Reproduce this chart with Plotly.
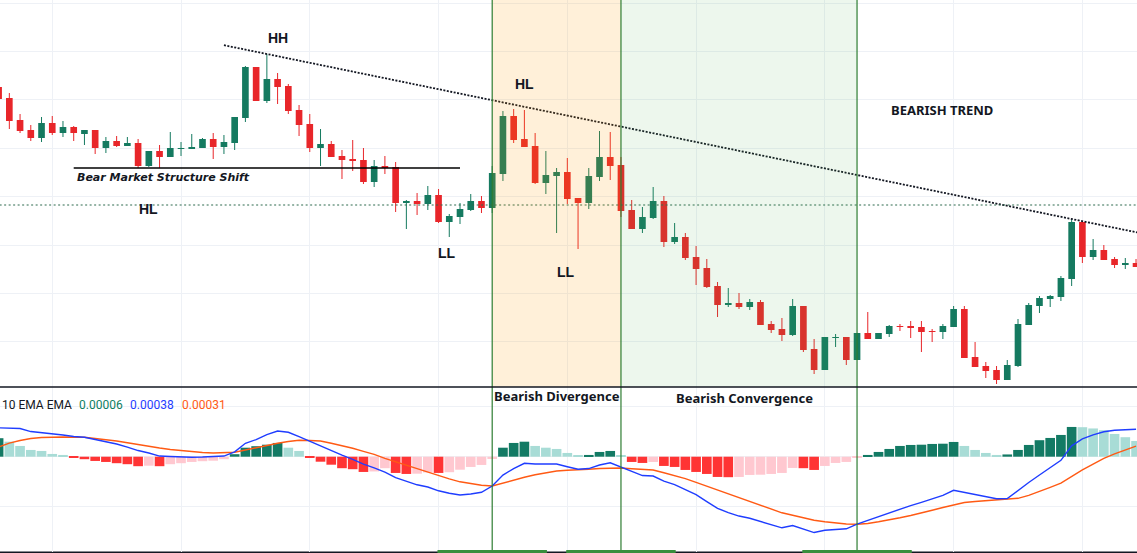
import plotly.graph_objects as go

# ---- price bars (5-digit quotes) ----
open_ = [1.08158, 1.08147, 1.08125, 1.08115, 1.08107, 1.08122, 1.08112, 1.08118, 1.08111, 1.08115,
         1.08097, 1.08104, 1.08099, 1.08102, 1.08079, 1.08094, 1.08088, 1.08096, 1.08096, 1.08097,
         1.08106, 1.08098, 1.08102, 1.08127, 1.08178, 1.08144, 1.08166, 1.08159, 1.08135, 1.08121,
         1.08097, 1.08101, 1.08089, 1.08086, 1.08085, 1.08063, 1.08079, 1.08078, 1.08042, 1.08044,
         1.08041, 1.08050, 1.08023, 1.08028, 1.08035, 1.08044, 1.08037, 1.08071, 1.08129, 1.08106,
         1.08099, 1.08062, 1.08069, 1.08073, 1.08047, 1.08042, 1.08068, 1.08088, 1.08080, 1.08035,
         1.08016, 1.08027, 1.08044, 1.08003, 1.08008, 1.07988, 1.07977, 1.07959, 1.07940, 1.07942,
         1.07938, 1.07943, 1.07921, 1.07916, 1.07910, 1.07939, 1.07896, 1.07875, 1.07907, 1.07908,
         1.07885, 1.07912, 1.07906, 1.07911, 1.07919, 1.07919, 1.07918, 1.07914, 1.07913, 1.07918,
         1.07936, 1.07888, 1.07879, 1.07875, 1.07865, 1.07879, 1.07920, 1.07939, 1.07946, 1.07948,
         1.07966, 1.08023, 1.07988, 1.07995, 1.07986, 1.07980, 1.07982]
high = [1.08160, 1.08152, 1.08131, 1.08120, 1.08128, 1.08129, 1.08124, 1.08119, 1.08115, 1.08115,
        1.08108, 1.08109, 1.08108, 1.08106, 1.08094, 1.08100, 1.08113, 1.08103, 1.08111, 1.08107,
        1.08112, 1.08110, 1.08128, 1.08179, 1.08178, 1.08191, 1.08172, 1.08161, 1.08140, 1.08131,
        1.08116, 1.08104, 1.08095, 1.08105, 1.08097, 1.08085, 1.08089, 1.08083, 1.08045, 1.08052,
        1.08059, 1.08056, 1.08031, 1.08042, 1.08051, 1.08049, 1.08079, 1.08134, 1.08136, 1.08135,
        1.08112, 1.08094, 1.08077, 1.08087, 1.08047, 1.08077, 1.08114, 1.08113, 1.08088, 1.08045,
        1.08038, 1.08058, 1.08049, 1.08022, 1.08012, 1.07999, 1.07986, 1.07963, 1.07957, 1.07952,
        1.07946, 1.07945, 1.07924, 1.07927, 1.07946, 1.07939, 1.07906, 1.07908, 1.07911, 1.07908,
        1.07912, 1.07933, 1.07912, 1.07920, 1.07921, 1.07924, 1.07924, 1.07916, 1.07921, 1.07939,
        1.07939, 1.07903, 1.07883, 1.07879, 1.07885, 1.07926, 1.07942, 1.07949, 1.07950, 1.07969,
        1.08026, 1.08023, 1.08006, 1.08000, 1.07988, 1.07987, 1.07986]
low = [1.08145, 1.08116, 1.08112, 1.08104, 1.08103, 1.08110, 1.08108, 1.08104, 1.08100, 1.08091,
       1.08092, 1.08098, 1.08099, 1.08077, 1.08078, 1.08077, 1.08088, 1.08089, 1.08096, 1.08097,
       1.08086, 1.08091, 1.08095, 1.08123, 1.08144, 1.08142, 1.08141, 1.08131, 1.08109, 1.08093,
       1.08079, 1.08088, 1.08066, 1.08074, 1.08061, 1.08058, 1.08071, 1.08033, 1.08016, 1.08030,
       1.08035, 1.08022, 1.08008, 1.08021, 1.08034, 1.08032, 1.08032, 1.08064, 1.08102, 1.08098,
       1.08061, 1.08051, 1.08012, 1.08041, 1.07996, 1.08036, 1.08064, 1.08065, 1.08028, 1.08016,
       1.08012, 1.08026, 1.07998, 1.08001, 1.07985, 1.07960, 1.07957, 1.07928, 1.07938, 1.07936,
       1.07935, 1.07920, 1.07912, 1.07904, 1.07909, 1.07893, 1.07871, 1.07875, 1.07898, 1.07880,
       1.07885, 1.07906, 1.07906, 1.07908, 1.07914, 1.07907, 1.07893, 1.07903, 1.07906, 1.07918,
       1.07887, 1.07878, 1.07867, 1.07861, 1.07865, 1.07878, 1.07920, 1.07932, 1.07938, 1.07944,
       1.07959, 1.07982, 1.07985, 1.07985, 1.07977, 1.07976, 1.07978]
close = [1.08146, 1.08124, 1.08114, 1.08107, 1.08122, 1.08112, 1.08118, 1.08112, 1.08115, 1.08097,
         1.08104, 1.08099, 1.08102, 1.08079, 1.08094, 1.08088, 1.08097, 1.08097, 1.08098, 1.08106,
         1.08098, 1.08103, 1.08128, 1.08178, 1.08144, 1.08166, 1.08158, 1.08134, 1.08120, 1.08097,
         1.08101, 1.08088, 1.08085, 1.08084, 1.08063, 1.08079, 1.08077, 1.08042, 1.08044, 1.08041,
         1.08050, 1.08023, 1.08029, 1.08036, 1.08044, 1.08037, 1.08072, 1.08129, 1.08105, 1.08098,
         1.08062, 1.08070, 1.08073, 1.08046, 1.08042, 1.08069, 1.08088, 1.08079, 1.08034, 1.08016,
         1.08028, 1.08044, 1.08003, 1.08008, 1.07987, 1.07976, 1.07958, 1.07940, 1.07942, 1.07938,
         1.07943, 1.07920, 1.07915, 1.07910, 1.07939, 1.07895, 1.07875, 1.07908, 1.07908, 1.07885,
         1.07912, 1.07906, 1.07912, 1.07919, 1.07918, 1.07917, 1.07913, 1.07913, 1.07919, 1.07936,
         1.07887, 1.07878, 1.07874, 1.07865, 1.07880, 1.07921, 1.07940, 1.07947, 1.07949, 1.07967,
         1.08023, 1.07988, 1.07995, 1.07985, 1.07980, 1.07982, 1.07978]

# ---- oscillator pane, in points (1 point = 0.00001) ----
macd_pts = [38.6, 38.6, 38.3, 37.1, 36.7, 36.3, 35.7, 35.1, 34.8, 33.9,
            33.1, 32.1, 30.9, 29.5, 28.5, 27.3, 27.1, 26.8, 26.8, 26.9,
            27.0, 27.3, 29.0, 32.4, 33.9, 35.9, 37.3, 36.8, 35.1, 33.2,
            31.5, 29.5, 27.7, 26.0, 24.1, 22.6, 20.9, 18.7, 17.1, 15.8,
            14.9, 13.4, 12.4, 11.7, 12.1, 12.8, 15.3, 19.7, 22.3, 24.4,
            24.1, 24.1, 24.1, 23.0, 22.0, 22.3, 23.7, 24.6, 22.8, 21.0,
            19.5, 19.3, 17.3, 15.9, 13.9, 11.9, 9.1, 6.4, 4.7, 3.3,
            2.4, 1.2, -0.3, -1.4, -0.5, -1.9, -3.3, -2.4, -2.1, -1.8,
            0.1, 1.6, 3.2, 4.7, 6.1, 7.5, 8.8, 10.1, 11.6, 13.6,
            12.8, 11.9, 11.1, 10.2, 10.3, 13.6, 16.7, 19.7, 22.5, 25.6,
            31.4, 34.2, 35.8, 37.0, 37.6, 37.8, 38.0]
signal_pts = [30.9, 32.5, 33.5, 34.3, 34.7, 34.9, 34.9, 34.8, 34.8, 34.3,
              33.9, 33.3, 32.6, 31.8, 31.2, 30.5, 29.9, 29.4, 29.1, 28.7,
              28.5, 28.6, 28.8, 29.7, 30.7, 31.6, 32.4, 33.1, 33.6, 33.5,
              33.3, 32.4, 31.5, 30.4, 29.2, 28.0, 26.4, 25.0, 23.6, 22.2,
              20.8, 19.5, 18.2, 17.0, 16.2, 15.6, 15.3, 16.5, 17.8, 18.8,
              19.8, 20.6, 21.3, 21.6, 21.7, 22.0, 22.3, 22.5, 22.5, 22.2,
              22.0, 21.7, 20.6, 19.6, 18.3, 16.8, 15.3, 13.7, 12.1, 10.5,
              9.0, 7.5, 6.0, 4.6, 3.6, 2.6, 1.6, 1.0, 0.4, 0.1,
              0.0, 0.3, 1.0, 1.7, 2.6, 3.5, 4.4, 5.6, 6.7, 7.8,
              8.7, 9.1, 9.4, 9.6, 9.9, 10.4, 11.6, 13.1, 14.8, 16.5,
              19.2, 21.8, 24.1, 26.4, 28.2, 29.9, 31.3]
hist_pts = [7.4, 6.0, 4.3, 2.7, 2.3, 1.1, 0.7, -0.4, -1.0, -1.7,
            -2.1, -2.6, -3.0, -3.8, -3.6, -3.8, -3.0, -2.6, -2.1, -1.8,
            -1.6, -1.0, 1.0, 3.6, 4.2, 4.8, 5.5, 3.6, 2.3, -0.5,
            -2.0, -3.2, -4.6, -5.0, -6.1, -5.9, -4.6, -6.5, -6.9, -6.8,
            -6.3, -6.5, -6.2, -5.2, -4.1, -3.3, -0.9, 3.6, 5.5, 6.0,
            4.3, 3.6, 3.1, 1.5, 0.3, 0.7, 1.9, 2.3, 0.3, -2.1,
            -2.5, -2.1, -3.7, -4.1, -5.3, -6.1, -6.9, -8.1, -8.2, -8.1,
            -7.3, -7.2, -6.9, -6.5, -4.5, -4.6, -5.3, -3.7, -2.5, -2.1,
            -0.5, 0.7, 1.9, 3.1, 4.3, 4.7, 4.8, 5.1, 5.2, 5.9,
            4.3, 2.7, 1.5, 0.7, 0.9, 2.7, 4.7, 6.6, 7.5, 8.7,
            11.9, 11.8, 11.3, 10.6, 9.1, 7.8, 6.3]

# ---- drawing anchors (bar indices / levels) ----
hh_bar, lower_high_bar = 25, 100          # trend line through these highs
shift_bar, shift_from, shift_to = 13, 7, 43
hl_level = 1.08040
divergence_bars = (46, 58)
convergence_bars = (58, 80)

PT = 1e-5
n = len(close)
idx = list(range(n))
macd = [v * PT for v in macd_pts]
signal = [v * PT for v in signal_pts]
hist = [v * PT for v in hist_pts]

UP, DOWN = "#157a60", "#e8262a"
MACD_C, SIG_C = "#1f3dff", "#ff5a14"
GRID = "#eef1f6"
INK = "#131722"
FRAME = "#2e7d32"

X_RANGE = [0.1305, 106.09]
PRICE_RANGE = [1.07858, 1.08245]
HIST_RANGE = [-38.12 * PT, 27.88 * PT]
LINE_RANGE = [-11.08 * PT, 54.92 * PT]
SPLIT = 1 - 387 / 553
BOTTOM = 1 / 553

fig = go.Figure()

# candle wicks
for up in (True, False):
    wx, wy = [], []
    for i in idx:
        if (close[i] >= open_[i]) == up:
            wx += [i, i, None]
            wy += [low[i], high[i], None]
    fig.add_trace(go.Scatter(x=wx, y=wy, mode="lines", hoverinfo="skip",
                             line=dict(color=UP if up else DOWN, width=1),
                             xaxis="x", yaxis="y"))

# candle bodies
body_base = [min(o, c) for o, c in zip(open_, close)]
body_h = [max(abs(c - o), PT) for o, c in zip(open_, close)]
body_col = [UP if c >= o else DOWN for o, c in zip(open_, close)]
fig.add_trace(go.Bar(x=idx, y=body_h, base=body_base, width=0.62,
                     marker=dict(color=body_col, line=dict(width=0)),
                     xaxis="x", yaxis="y"))

# descending trend line through the two swing highs
slope = (high[lower_high_bar] - high[hh_bar]) / (lower_high_bar - hh_bar)
tx = [21, 108]
ty = [high[hh_bar] + slope * (x - hh_bar) for x in tx]
fig.add_trace(go.Scatter(x=tx, y=ty, mode="lines",
                         line=dict(color=INK, width=1.8, dash="2px,1.5px"),
                         xaxis="x", yaxis="y"))

# higher-low level
fig.add_trace(go.Scatter(x=[-2, 110], y=[hl_level, hl_level], mode="lines",
                         line=dict(color="#2e6b4f", width=1.2, dash="2px,2.5px"),
                         xaxis="x", yaxis="y"))

# market structure shift level
fig.add_trace(go.Scatter(x=[shift_from, shift_to], y=[low[shift_bar]] * 2, mode="lines",
                         line=dict(color="#000000", width=1.3),
                         xaxis="x", yaxis="y"))

# histogram colours: growing/falling above and below zero
hcol = []
for i, v in enumerate(hist):
    prev = hist[i - 1] if i else None
    rising = prev is None or v > prev
    if v >= 0:
        hcol.append("#137a64" if rising else "#a8dcd6")
    else:
        hcol.append("#ffc8d0" if rising else "#ff3434")
fig.add_trace(go.Bar(x=idx, y=hist, width=0.9,
                     marker=dict(color=hcol, line=dict(width=0)),
                     xaxis="x2", yaxis="y2"))
fig.add_trace(go.Scatter(x=idx, y=signal, mode="lines",
                         line=dict(color=SIG_C, width=1.4),
                         xaxis="x2", yaxis="y3"))
fig.add_trace(go.Scatter(x=idx, y=macd, mode="lines",
                         line=dict(color=MACD_C, width=1.4),
                         xaxis="x2", yaxis="y3"))

shapes = []
# shaded zones
shapes.append(dict(type="rect", xref="x", yref="paper", x0=divergence_bars[0], x1=divergence_bars[1],
                   y0=SPLIT, y1=1, fillcolor="rgba(255,152,0,0.15)", line=dict(width=0), layer="above"))
shapes.append(dict(type="rect", xref="x", yref="paper", x0=convergence_bars[0], x1=convergence_bars[1],
                   y0=SPLIT, y1=1, fillcolor="rgba(76,175,80,0.10)", line=dict(width=0), layer="above"))
# zone borders through both panes
for b in (divergence_bars[0], divergence_bars[1], convergence_bars[1]):
    shapes.append(dict(type="line", xref="x", yref="paper", x0=b, x1=b, y0=0, y1=1,
                       line=dict(color=FRAME, width=1.2), layer="above"))
    shapes.append(dict(type="rect", xref="x", yref="paper", x0=b - 5.1, x1=b + 5.1,
                       y0=0, y1=3 / 553, fillcolor="#388e3c", line=dict(width=0), layer="above"))
# pane separator and bottom edge
shapes.append(dict(type="line", xref="paper", yref="paper", x0=0, x1=1, y0=SPLIT, y1=SPLIT,
                   line=dict(color=INK, width=1.5), layer="above"))
shapes.append(dict(type="line", xref="paper", yref="paper", x0=0, x1=1, y0=0.6 / 553, y1=0.6 / 553,
                   line=dict(color=INK, width=2), layer="below"))


def label(text, x, y, size=13, xref="x", yref="y", color=INK, family="Noto Sans"):
    return dict(text=text, x=x, y=y, xref=xref, yref=yref, showarrow=False,
                xanchor="center", yanchor="middle",
                font=dict(family=family, size=size, color=color))


SWING = "Liberation Sans"
annotations = [
    label("<b>HH</b>", 26.0, 1.08207, size=14, family=SWING),
    label("<b>HL</b>", 49.0, 1.08161, size=14, family=SWING),
    label("<b>HL</b>", 14.0, 1.080365, size=14, family=SWING),
    label("<b>LL</b>", 41.8, 1.07992, size=14, family=SWING),
    label("<b>LL</b>", 52.85, 1.07973, size=14, family=SWING),
    label("<b>BEARISH TREND</b>", 87.9, 1.08135),
    label("<b><i>Bear Market Structure Shift</i></b>", 15.35, 1.08068, size=11, family="DejaVu Sans"),
    label("<b>Bearish Divergence</b>", 52.0, (553 - 395.5) / 553, xref="x2", yref="paper"),
    label("<b>Bearish Convergence</b>", 69.5, (553 - 397.5) / 553, xref="x2", yref="paper"),
]

# oscillator legend with the latest values
legend_y = (553 - 405) / 553
legend_parts = [
    ("10 EMA EMA", INK, 0.0),
    (f"{hist[-1]:.5f}", "#0e7e63", 76.5),
    (f"{macd[-1]:.5f}", MACD_C, 128.0),
    (f"{signal[-1]:.5f}", SIG_C, 179.5),
]
for txt, col, px in legend_parts:
    annotations.append(dict(text=txt, x=px / 1137, y=legend_y, xref="paper", yref="paper",
                            showarrow=False, xanchor="left", yanchor="middle",
                            font=dict(family="Roboto", size=12, color=col)))

axis_common = dict(showticklabels=False, ticks="", zeroline=False, showline=False,
                   gridcolor=GRID, gridwidth=1)

fig.update_layout(
    width=1137, height=553,
    margin=dict(l=0, r=0, t=0, b=0),
    paper_bgcolor="white", plot_bgcolor="white",
    showlegend=False, hovermode=False,
    xaxis=dict(domain=[0, 1], anchor="y", range=X_RANGE, tickmode="linear", tick0=5, dtick=12,
               **axis_common),
    xaxis2=dict(domain=[0, 1], anchor="y2", range=X_RANGE, matches="x", tickmode="linear",
                tick0=5, dtick=12, **axis_common),
    yaxis=dict(domain=[SPLIT, 1], anchor="x", range=PRICE_RANGE, tickmode="linear",
               tick0=1.08, dtick=0.000484, **axis_common),
    yaxis2=dict(domain=[BOTTOM, SPLIT], anchor="x2", range=HIST_RANGE, tickmode="linear",
                tick0=0, dtick=0.0002, **axis_common),
    yaxis3=dict(overlaying="y2", anchor="x2", range=LINE_RANGE, showgrid=False,
                showticklabels=False, ticks="", zeroline=False, showline=False),
    shapes=shapes,
    annotations=annotations,
)

fig.write_html("out.html")
